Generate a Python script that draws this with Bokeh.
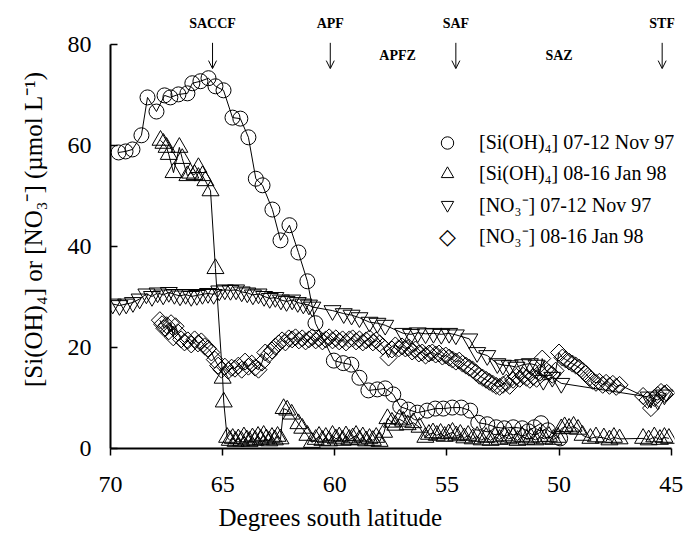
import math
from bokeh.plotting import figure
from bokeh.models import (ColumnDataSource, Range1d, Legend, LegendItem, Label,
                          Arrow, OpenHead, FixedTicker, Title)
from bokeh.core.properties import value
from bokeh.embed import file_html
from bokeh.resources import INLINE

# ---------------- data ----------------
x_ticks = [70, 65, 60, 55, 50, 45]
y_ticks = [0, 20, 40, 60, 80]

si_nov_lat = [69.64, 69.33, 69.02, 68.62, 68.35, 67.95, 67.59, 67.33, 66.97, 66.57,
              66.35, 65.99, 65.63, 65.32, 64.96, 64.56, 64.21, 63.85, 63.52, 63.22,
              62.78, 62.42, 62.02, 61.62, 61.22, 60.86, 60.04, 59.62, 59.26, 58.90,
              58.50, 58.10, 57.75, 57.39, 57.08, 56.72, 56.32, 55.88, 55.52, 55.16,
              54.76, 54.36, 53.96, 53.60, 53.20, 52.80, 52.44, 52.04, 51.64, 51.37,
              51.10, 50.80, 50.50, 49.95]
si_nov_val = [58.6, 58.8, 59.2, 62.0, 69.5, 66.7, 69.9, 69.5, 70.1, 70.3,
              72.3, 72.7, 73.3, 71.7, 70.9, 65.5, 65.3, 61.6, 53.4, 52.1,
              47.3, 41.2, 44.2, 38.8, 33.1, 24.8, 17.4, 16.9, 16.6, 14.0,
              11.5, 11.7, 11.9, 10.7, 8.3, 7.7, 7.1, 7.5, 7.9, 7.9,
              8.1, 8.1, 7.5, 5.1, 4.8, 4.2, 4.0, 4.2, 4.0, 3.4,
              4.2, 5.0, 3.6, 2.0]

si_jan_lat = [67.77, 67.64, 67.50, 67.40, 67.19, 66.93, 66.80, 66.57, 66.44, 66.25,
              66.08, 65.90, 65.77, 65.54, 65.32, 65.00, 64.95, 64.80, 64.68, 64.55,
              64.42, 64.30, 64.17, 64.05, 63.92, 63.80, 63.67, 63.55, 63.42, 63.30,
              63.17, 63.05, 62.92, 62.80, 62.67, 62.55, 62.42, 62.28, 62.12, 61.92,
              61.62, 61.45, 61.22, 61.02, 60.85, 60.70, 60.55, 60.40, 60.25, 60.10,
              59.95, 59.80, 59.65, 59.50, 59.35, 59.20, 59.05, 58.90, 58.75, 58.60,
              58.45, 58.30, 58.15, 58.00, 57.80, 57.65, 57.45, 57.30, 57.12, 56.95,
              56.75, 56.50, 56.22, 55.96, 55.80, 55.62, 55.45, 55.28, 55.10, 54.92,
              54.75, 54.58, 54.40, 54.22, 54.05, 53.85, 53.65, 53.45, 53.25, 53.05,
              52.85, 52.65, 52.45, 52.25, 52.05, 51.85, 51.65, 51.45, 51.25, 51.05,
              50.85, 50.65, 50.45, 50.25, 50.05, 49.90, 49.75, 49.55, 49.35, 49.15,
              48.95, 48.60, 48.35, 48.00, 47.75, 47.55, 47.30, 46.25, 46.00, 45.75,
              45.50, 45.30, 45.10]
si_jan_val = [61.0, 60.4, 59.6, 58.2, 54.6, 59.6, 57.4, 54.0, 54.5, 54.2,
              55.6, 54.0, 53.0, 51.0, 35.6, 13.9, 9.2, 2.2, 1.6, 2.0,
              1.4, 1.9, 1.5, 2.3, 1.7, 1.4, 2.1, 1.6, 2.4, 1.8,
              2.6, 1.9, 1.5, 2.2, 1.7, 2.4, 1.9, 7.9, 7.6, 6.8,
              4.9, 4.0, 2.6, 1.2, 1.8, 2.4, 1.6, 2.2, 1.5, 2.6,
              1.9, 2.3, 1.6, 2.5, 1.8, 2.1, 2.6, 1.7, 2.3, 1.5,
              2.0, 1.6, 2.2, 1.4, 3.2, 5.9, 5.2, 4.6, 5.8, 5.4,
              4.7, 5.1, 4.2, 2.2, 2.8, 3.1, 2.6, 3.0, 2.4, 2.9,
              3.2, 2.5, 2.8, 2.1, 2.6, 1.9, 2.4, 1.7, 2.2, 1.6,
              2.3, 1.8, 2.5, 1.9, 2.2, 1.6, 2.4, 1.8, 2.1, 1.7,
              2.3, 1.9, 2.4, 1.8, 2.2, 3.9, 4.3, 4.0, 4.4, 3.8,
              2.6, 2.0, 2.3, 2.1, 1.7, 2.2, 1.9, 2.0, 1.7, 2.3,
              1.8, 2.2, 2.0]

no3_nov_lat = [69.90, 69.60, 69.30, 69.00, 68.70, 68.40, 68.15, 67.90, 67.65, 67.40,
               67.15, 66.90, 66.65, 66.40, 66.15, 65.90, 65.65, 65.40, 65.15, 64.90,
               64.65, 64.40, 64.15, 63.90, 63.65, 63.40, 63.15, 62.90, 62.65, 62.40,
               62.15, 61.90, 61.65, 61.40, 61.15, 61.00, 60.10, 59.60, 59.25, 58.90,
               58.45, 58.10, 57.75, 56.95, 56.60, 56.30, 55.95, 55.60, 55.25, 54.90,
               54.60, 54.00, 53.65, 53.20, 52.75, 52.50, 52.20, 51.90, 51.60, 51.30,
               51.00, 50.70, 50.30, 49.90, 46.00, 45.60, 45.30]
no3_nov_val = [28.6, 28.3, 28.6, 28.9, 29.6, 30.6, 30.1, 30.8, 30.4, 30.9,
               30.5, 30.2, 30.5, 30.1, 30.3, 30.5, 30.7, 30.5, 31.2, 31.4,
               31.3, 31.4, 31.0, 30.8, 30.4, 30.6, 30.1, 29.7, 29.9, 29.4,
               29.1, 29.4, 28.9, 28.6, 28.4, 28.0, 27.3, 26.7, 26.4, 25.9,
               25.0, 24.8, 24.4, 22.8, 22.6, 22.9, 22.7, 22.8, 22.6, 22.8,
               22.5, 21.7, 19.0, 18.4, 16.8, 16.5, 16.4, 16.1, 16.6, 16.8,
               16.5, 13.5, 14.1, 12.9, 10.2, 9.6, 10.6]

no3_jan_lat = [67.80, 67.70, 67.60, 67.50, 67.40, 67.30, 67.20, 67.10, 67.00, 66.85,
               66.70, 66.55, 66.40, 66.25, 66.10, 65.95, 65.80, 65.65, 65.50, 65.35,
               65.20, 65.05, 64.90, 64.75, 64.60, 64.45, 64.30, 64.15, 64.00, 63.85,
               63.70, 63.55, 63.40, 63.25, 63.10, 62.95, 62.80, 62.65, 62.50, 62.35,
               62.20, 62.05, 61.90, 61.75, 61.60, 61.45, 61.30, 61.15, 61.00, 60.85,
               60.70, 60.55, 60.40, 60.25, 60.10, 59.95, 59.80, 59.65, 59.50, 59.35,
               59.20, 59.05, 58.90, 58.75, 58.60, 58.45, 58.30, 58.15, 58.00, 57.85,
               57.60, 57.45, 57.30, 57.15, 57.00, 56.85, 56.70, 56.55, 56.40, 56.25,
               56.10, 55.95, 55.80, 55.65, 55.50, 55.35, 55.20, 55.05, 54.90, 54.75,
               54.60, 54.45, 54.30, 54.15, 54.00, 53.85, 53.70, 53.55, 53.40, 53.25,
               53.10, 52.95, 52.80, 52.65, 52.50, 52.35, 52.20, 52.05, 51.90, 51.75,
               51.60, 51.45, 51.30, 51.15, 51.00, 50.85, 50.75, 50.60, 50.45, 50.30,
               50.15, 50.00, 49.85, 49.70, 49.55, 49.40, 49.25, 49.10, 48.95, 48.80,
               48.65, 48.50, 48.35, 48.20, 48.05, 47.90, 47.75, 47.60, 47.45, 47.30,
               46.25, 46.05, 45.90, 45.75, 45.60, 45.45, 45.30, 45.20]
no3_jan_val = [25.4, 24.6, 23.8, 24.4, 23.2, 24.8, 22.0, 24.2, 23.0, 21.6,
               21.0, 21.4, 20.6, 21.6, 20.8, 21.2, 20.2, 19.8, 19.0, 17.6,
               16.4, 15.6, 16.2, 15.4, 16.0, 15.8, 16.4, 15.6, 17.2, 16.2,
               16.8, 16.0, 15.6, 17.0, 19.0, 18.6, 19.4, 20.2, 20.8, 21.4,
               21.0, 21.8, 21.6, 22.0, 21.4, 21.8, 21.2, 21.6, 22.0, 21.4,
               21.8, 21.2, 21.6, 22.0, 21.4, 21.8, 21.2, 21.6, 21.0, 21.6,
               21.8, 21.2, 21.6, 21.0, 21.4, 21.8, 21.0, 21.4, 20.8, 20.2,
               18.0, 19.6, 20.4, 19.8, 20.2, 19.8, 20.0, 19.2, 19.6, 18.8,
               19.0, 18.4, 18.8, 19.0, 18.6, 18.8, 18.2, 18.4, 18.0, 17.6,
               17.2, 17.4, 16.8, 16.4, 16.0, 15.6, 15.0, 14.4, 14.0, 13.6,
               13.2, 12.8, 12.4, 12.2, 12.6, 13.0, 12.4, 13.6, 14.2, 13.8,
               14.4, 14.0, 13.6, 14.2, 13.8, 15.0, 17.8, 15.6, 15.0, 14.6,
               15.4, 19.0, 18.0, 17.6, 17.2, 16.8, 16.4, 16.0, 15.4, 14.8,
               14.0, 13.4, 13.0, 13.2, 12.6, 13.0, 12.4, 12.8, 12.2, 12.6,
               10.4, 9.6, 8.0, 10.0, 10.6, 11.2, 10.8, 11.0]

series_labels = ["[Si(OH)\u2084] 07-12 Nov 97", "[Si(OH)\u2084] 08-16 Jan 98",
                 "[NO\u2083\u207B] 07-12 Nov 97", "[NO\u2083\u207B] 08-16 Jan 98"]

front_names = ["SACCF", "APF", "SAF", "STF"]
front_lats = [65.45, 60.2, 54.6, 45.4]
zone_names = ["APFZ", "SAZ"]
zone_lats = [57.2, 50.0]

# ---------------- figure ----------------
SERIF = "Liberation Serif"
p = figure(width=685, height=540, output_backend="svg", toolbar_location=None,
           x_range=Range1d(70, 44.85), y_range=Range1d(0, 86.7),
           min_border_left=110, min_border_right=11, min_border_top=10,
           min_border_bottom=92)
p.xgrid.visible = False
p.ygrid.visible = False
p.outline_line_color = None
p.background_fill_color = "white"
p.border_fill_color = "white"

for ax in (p.xaxis[0], p.yaxis[0]):
    ax.axis_line_width = 2
    ax.axis_line_color = "black"
    ax.major_tick_line_color = "black"
    ax.major_tick_line_width = 1.5
    ax.minor_tick_line_color = None
    ax.major_label_text_font = SERIF
    ax.major_label_text_font_size = "24px"
    ax.major_label_text_color = "black"

p.xaxis.ticker = FixedTicker(ticks=x_ticks)
p.xaxis.bounds = (70, 45)
p.xaxis.major_tick_in = 0
p.xaxis.major_tick_out = 7
p.xaxis.major_label_standoff = 21

p.yaxis.ticker = FixedTicker(ticks=y_ticks)
p.yaxis.bounds = (0, 80)
p.yaxis.major_tick_in = 7
p.yaxis.major_tick_out = 0
p.yaxis.major_label_standoff = 19
p.yaxis.axis_label = "[Si(OH)\u2084] or [NO\u2083\u207B] (\u00B5mol L\u207B\u00B9)"
p.yaxis.axis_label_text_font = SERIF
p.yaxis.axis_label_text_font_size = "25px"
p.yaxis.axis_label_text_font_style = "normal"
p.yaxis.axis_label_text_color = "black"
p.yaxis.axis_label_standoff = 18

# x-axis title, placed left of centre as in the original
p.add_layout(Title(text="Degrees south latitude", align="left", offset=108,
                   text_font=SERIF, text_font_size="25px",
                   text_font_style="normal", text_color="black", standoff=15),
             "below")


def add_series(lat, val, marker, size, angle=0.0):
    src = ColumnDataSource(dict(x=lat, y=val))
    p.line("x", "y", source=src, line_color="black", line_width=1)
    return p.scatter("x", "y", source=src, marker=marker, size=size, angle=angle,
                     fill_alpha=0, line_color="black", line_width=1)


r1 = add_series(si_nov_lat, si_nov_val, "circle", 15)
r2 = add_series(si_jan_lat, si_jan_val, "triangle", 17)
r3 = add_series(no3_nov_lat, no3_nov_val, "inverted_triangle", 17)
r4 = add_series(no3_jan_lat, no3_jan_val, "square", 12, angle=math.pi / 4)

# legend glyph for the rotated-square series is drawn as a symbol label
r4_key = p.scatter(x=[], y=[], marker="square", size=1, line_alpha=0, fill_alpha=0)

legend = Legend(items=[LegendItem(label=lab, renderers=[r])
                       for lab, r in zip(series_labels, [r1, r2, r3, r4_key])],
                location=(320, 197), glyph_width=34, glyph_height=31,
                label_height=31, label_standoff=15, padding=0, margin=0,
                spacing=0, border_line_color=None, background_fill_alpha=0,
                label_text_font=SERIF, label_text_font_size="20px",
                label_text_color="black")
p.add_layout(legend)
p.add_layout(Label(x=337, y=212, x_units="screen", y_units="screen",
                   text="\u25C7", text_align="center", text_baseline="middle",
                   text_font="DejaVu Sans", text_font_size="22px",
                   text_color="black"))

# fronts and zones
fsrc = ColumnDataSource(dict(x=front_lats, name=front_names))
zsrc = ColumnDataSource(dict(x=zone_lats, name=zone_names))
p.text(x="x", y=84.2, text="name", source=fsrc, text_font=value(SERIF),
       text_font_style="bold", text_font_size="14px", text_align="center",
       text_baseline="middle", text_color="black")
p.text(x="x", y=77.8, text="name", source=zsrc, text_font=value(SERIF),
       text_font_style="bold", text_font_size="14px", text_align="center",
       text_baseline="middle", text_color="black")
p.add_layout(Arrow(x_start="x", y_start=80.3, x_end="x", y_end=75.2, source=fsrc,
                   line_width=1, line_color="black",
                   end=OpenHead(size=8, line_width=1, line_color="black")))

open("out.html", "w").write(file_html(p, INLINE))
